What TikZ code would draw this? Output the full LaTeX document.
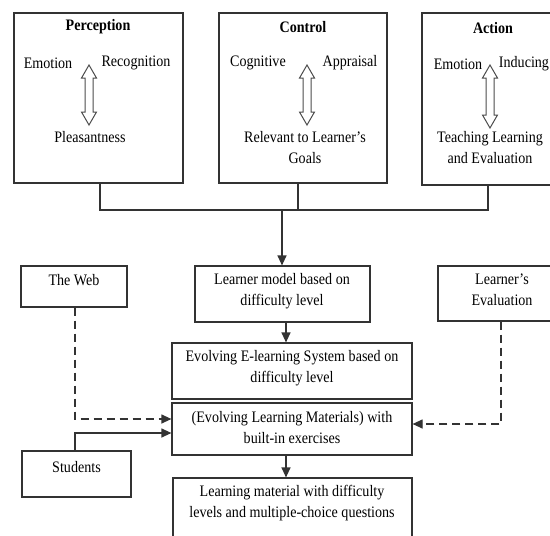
\documentclass[tikz,border=0pt]{standalone}
\usepackage{fontspec}
\setmainfont[FakeStretch=0.88]{Liberation Serif}
\usetikzlibrary{arrows.meta}
\newcommand\vdblarrow[3]{%
  \draw[dbl] (#1,#2) -- ++(7.5,13) -- ++(-3.5,0) -- ++(0,#3) -- ++(3.5,0)
    -- ++(-7.5,13) -- ++(-7.5,-13) -- ++(3.5,0) -- ++(0,-#3) -- ++(-3.5,0) -- cycle;}
\begin{document}
\begin{tikzpicture}[x=1pt,y=-1pt,
  box/.style={draw=black!80, line width=1.2pt, inner sep=0pt},
  txt/.style={inner sep=0pt, align=center, font=\fontsize{16}{21}\selectfont},
  ttl/.style={inner sep=0pt, align=center, font=\fontsize{16}{21}\selectfont\bfseries},
  conn/.style={draw=black!80, line width=1.2pt},
  arr/.style={conn, -{Triangle[length=10pt,width=9pt]}},
  dsh/.style={arr, dash pattern=on 8pt off 5pt},
  dbl/.style={draw=black!70, line width=1pt, fill=white}]
\useasboundingbox (0,0) rectangle (550,536);
\clip (0,0) rectangle (550,536);

% top boxes
\node[box, minimum width=169pt, minimum height=170pt] (perc) at (98.5,98) {};
\node[box, minimum width=168pt, minimum height=170pt] (ctrl) at (303,98) {};
\node[box, minimum width=150pt, minimum height=172pt] (act) at (497,99) {};

\node[ttl] (percT) at (98,27) {Perception};
\node[txt] (percE) at (48,63) {Emotion};
\node[txt] (percR) at (136,63) {Recognition};
\node[txt] (percP) at (90,137) {Pleasantness};
\vdblarrow{89}{65}{34}

\node[ttl] (ctrlT) at (303,27) {Control};
\node[txt] (ctrlC) at (258,63) {Cognitive};
\node[txt] (ctrlA) at (350,63) {Appraisal};
\node[txt] (ctrlR) at (305,147.5) {Relevant to Learner's\\Goals};
\vdblarrow{307}{65}{34}

\node[ttl] (actT) at (493,28) {Action};
\node[txt] (actE) at (458,64) {Emotion};
\node[txt] (actI) at (524,64) {Inducing};
\node[txt] (actL) at (490,147.5) {Teaching Learning\\and Evaluation};
\vdblarrow{490}{65}{37}

% lower boxes
\node[box, minimum width=175pt, minimum height=56pt] (lm) at (282.5,294) {};
\node[txt] (lmT) at (282,291) {Learner model based on\\difficulty level};

\node[box, minimum width=240pt, minimum height=56pt] (ev) at (292,371) {};
\node[txt] (evT) at (292,368.5) {Evolving E-learning System based on\\difficulty level};

\node[box, minimum width=240pt, minimum height=52pt] (elm) at (292,429) {};
\node[txt] (elmT) at (292,428) {(Evolving Learning Materials) with\\built-in exercises};

\node[box, minimum width=239pt, minimum height=62pt] (lmat) at (292.5,509) {};
\node[txt] (lmatT) at (292,503.5) {Learning material with difficulty\\levels and multiple-choice questions};

\node[box, minimum width=106pt, minimum height=41pt] (web) at (74,286.5) {};
\node[txt] (webT) at (74,280) {The Web};

\node[box, minimum width=109pt, minimum height=46pt] (stu) at (76.5,474) {};
\node[txt] (stuT) at (76.5,467) {Students};

\node[box, minimum width=140pt, minimum height=55pt] (eval) at (508,293.5) {};
\node[txt] (evalT) at (502,290) {Learner's\\Evaluation};

% connectors
\coordinate (j1) at (100,210);
\coordinate (j2) at (282,210);
\coordinate (cx) at (298,210);
\coordinate (j3) at (488,210);
\draw[conn] (perc.south -| j1) -- (j1) -- (j3) -- (act.south -| j3);
\draw[conn] (ctrl.south -| cx) -- (cx);
\draw[arr] (j2) -- (lm.north -| j2);

\coordinate (a2) at (286,0);
\draw[arr] (lm.south -| a2) -- (ev.north -| a2);
\draw[arr] (elm.south -| a2) -- (lmat.north -| a2);

\coordinate (wd) at (75,419);
\coordinate (sd) at (75,433);
\coordinate (ed) at (501,424);
\draw[dsh] (web.south -| wd) -- (wd) -- (elm.west |- wd);
\draw[arr] (stu.north -| sd) -- (sd) -- (elm.west |- sd);
\draw[dsh] (eval.south -| ed) -- (ed) -- (elm.east |- ed);
\end{tikzpicture}
\end{document}
